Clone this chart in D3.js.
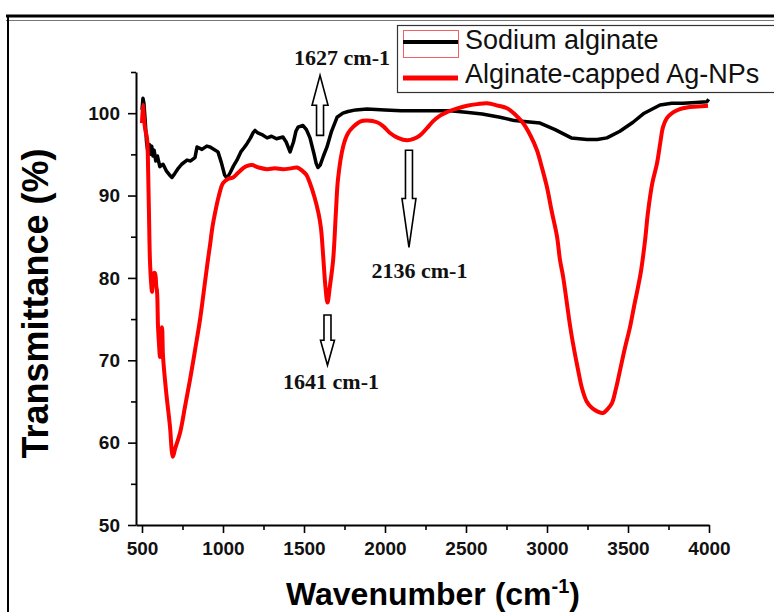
<!DOCTYPE html>
<html>
<head>
<meta charset="utf-8">
<script src="https://cdn.jsdelivr.net/npm/d3@7"></script>
<style>
	body { margin: 0; background: #fff; }
	svg { display: block; }
</style>
</head>
<body>
<div id="canvas"></div>
<script>
var width = 774,
	height = 612;

var xTicks = [500, 1000, 1500, 2000, 2500, 3000, 3500, 4000];
var xMinor = [750, 1250, 1750, 2250, 2750, 3250, 3750];
var yTicks = [50, 60, 70, 80, 90, 100];
var yMinor = [55, 65, 75, 85, 95, 105];

var seriesNames = ["Sodium alginate", "Alginate-capped Ag-NPs"];
var seriesColors = ["#000000", "#ff0000"];

// sodium alginate, [wavenumber, transmittance]
var alginate = [
	[500,100.4],[506,101.8],[512,101.2],[520,99],[528,96.5],[535,95.5],[545,96.2],[552,95],[560,96],
	[568,94.8],[575,95.5],[585,94.2],[595,94.8],[610,93.5],[630,93.8],[650,93],[670,92.5],[685,92.2],
	[700,92.6],[720,93.2],[745,93.8],[778,94.3],[800,94.2],[827,94.6],[840,95.9],[870,95.6],[900,96],
	[920,95.9],[945,95.6],[969,95.3],[990,94],[1010,92.5],[1025,92.1],[1045,92.8],[1065,93.6],[1086,94.3],
	[1110,95.3],[1130,95.8],[1148,96.3],[1170,97],[1185,97.6],[1198,97.9],[1215,97.6],[1240,97.4],
	[1272,97],[1300,97.2],[1330,96.9],[1370,97.1],[1390,96.5],[1414,95.3],[1435,96.5],[1450,97.8],
	[1463,98.3],[1494,98.5],[1515,98],[1537,97],[1560,95.2],[1575,93.9],[1586,93.4],[1600,93.7],
	[1620,94.8],[1642,95.9],[1670,97.8],[1704,99.5],[1740,100],[1772,100.2],[1820,100.4],[1889,100.5],
	[2000,100.4],[2100,100.3],[2200,100.3],[2300,100.3],[2401,100.3],[2500,100.1],[2600,99.9],
	[2710,99.5],[2800,99.1],[2860,99],[2957,98.8],[3050,98],[3150,97],[3247,96.8],[3310,96.8],
	[3370,97],[3450,97.8],[3531,98.9],[3600,100],[3698,101],[3770,101.2],[3840,101.2],[3920,101.3],
	[3988,101.4],[3998,101.7]
];

// alginate-capped Ag-NPs
var agnps = [
	[500,98.8],[506,101],[512,99.5],[520,98],[531,97],[538,93],[543,87.9],[549,82.2],[556,79.5],
	[562,78.3],[570,80.5],[580,80.6],[588,79],[593,78.3],[599,74],[605,72],[611,70.4],[617,73.5],
	[623,74],[630,70.4],[650,66],[673,61.9],[685,58.8],[691,58.3],[705,59.3],[735,61.2],[765,64.3],
	[796,67.6],[828,71.3],[858,74.9],[883,78.6],[907,82.2],[920,84],[935,86.2],[951,87.9],[975,90],
	[1000,91.5],[1030,92],[1062,92.2],[1090,92.7],[1123,93.3],[1150,93.6],[1179,93.7],[1220,93.4],
	[1272,93.2],[1320,93.3],[1370,93.2],[1420,93.3],[1457,93.4],[1490,93],[1515,92.5],[1537,91.5],
	[1565,89.8],[1590,87.8],[1605,86],[1620,82.2],[1632,79],[1645,77],[1660,79],[1680,82.2],
	[1697,88],[1710,92],[1741,95.9],[1770,97.5],[1802,98.3],[1850,99],[1889,99.1],[1951,98.9],
	[1990,98.4],[2031,97.6],[2080,97],[2136,96.7],[2180,96.9],[2216,97.3],[2260,98.2],[2296,99],
	[2340,99.7],[2389,100.2],[2450,100.6],[2506,100.9],[2570,101.1],[2630,101.2],[2700,100.9],
	[2753,100.6],[2800,99.9],[2852,98.8],[2900,97.2],[2938,95.5],[2970,93.3],[3000,91],[3030,88],
	[3062,85],[3080,82.2],[3099,80.2],[3123,76.9],[3140,74.5],[3160,72.1],[3190,69],[3216,66.6],
	[3245,65],[3278,64.2],[3310,63.8],[3346,63.6],[3375,64.1],[3401,64.8],[3425,66.5],[3451,68.8],
	[3480,71.4],[3512,74],[3540,76.8],[3562,78.9],[3580,80.8],[3605,84.5],[3623,87.9],[3650,91.5],
	[3679,93.9],[3700,96.5],[3716,98.3],[3740,99.4],[3778,100.1],[3820,100.5],[3864,100.7],
	[3930,100.8],[3994,100.9]
];

// peak annotations: arrow at wn from T1 to T2 (tip), label at (lx, ly)
var peaks = [
	{"label":"1627 cm-1", "wn":1599, "from":97.3, "to":104.6, "head":30, "hw":8, "lx":1735, "ly":105.8},
	{"label":"2136 cm-1", "wn":2148, "from":95.5, "to":83.7, "head":49, "hw":7, "lx":2213, "ly":80},
	{"label":"1641 cm-1", "wn":1645, "from":75.5, "to":69.4, "head":25, "hw":7, "lx":1667, "ly":66.5}
];

var x = d3.scaleLinear().domain([463, 4000]).range([136, 709]);
var y = d3.scaleLinear().domain([50, 105]).range([525, 72]);

var svg = d3.select("#canvas").append("svg")
	.attr("width", width)
	.attr("height", height)
	.style("background-color", "#fff")

// figure frame
svg.append("line")
	.attr("x1", 6).attr("x2", width).attr("y1", 16).attr("y2", 16)
	.attr("stroke", "#000").attr("stroke-width", 3)
svg.append("line")
	.attr("x1", 6).attr("x2", width).attr("y1", 20.5).attr("y2", 20.5)
	.attr("stroke", "#777").attr("stroke-width", 1)
svg.append("line")
	.attr("x1", 8).attr("x2", 8).attr("y1", 15).attr("y2", height)
	.attr("stroke", "#000").attr("stroke-width", 2)

// axes
var xAxis = svg.append("g")
	.attr("transform", "translate(0," + y(50) + ")")
	.call(d3.axisBottom(x).tickValues(xTicks).tickFormat(d3.format("d")).tickSize(8).tickPadding(9).tickSizeOuter(0))
xAxis.append("g")
	.call(d3.axisBottom(x).tickValues(xMinor).tickSize(5).tickFormat("").tickSizeOuter(0))
	.select(".domain").remove()

var yAxis = svg.append("g")
	.attr("transform", "translate(" + x(463) + ",0)")
	.call(d3.axisLeft(y).tickValues(yTicks).tickFormat(d3.format("d")).tickSize(8).tickPadding(8).tickSizeOuter(0))
yAxis.append("g")
	.call(d3.axisLeft(y).tickValues(yMinor).tickSize(5).tickFormat("").tickSizeOuter(0))
	.select(".domain").remove()

svg.selectAll(".domain").attr("stroke-width", 2)
svg.selectAll(".tick line").attr("stroke-width", 1.6)
svg.selectAll(".tick text")
	.style("font-family", "Liberation Sans, Arial, sans-serif")
	.style("font-weight", "bold")
	.style("font-size", "19px")
	.attr("fill", "#111")

// axis titles
svg.append("text")
	.attr("transform", "translate(48," + ((145 + 462) / 2) + ") rotate(-90)")
	.attr("text-anchor", "middle")
	.style("font-family", "Liberation Sans, Arial, sans-serif")
	.style("font-weight", "bold")
	.style("font-size", "36px")
	.text("Transmittance (%)")

var xt = svg.append("text")
	.attr("x", 433)
	.attr("y", 605)
	.attr("text-anchor", "middle")
	.style("font-family", "Liberation Sans, Arial, sans-serif")
	.style("font-weight", "bold")
	.style("font-size", "32px")
xt.append("tspan").text("Wavenumber (cm")
xt.append("tspan").attr("dy", -12).style("font-size", "20px").text("-1")
xt.append("tspan").attr("dy", 12).text(")")

// spectra
var line = d3.line()
	.x(function(d){ return x(d[0]); })
	.y(function(d){ return y(d[1]); })

svg.append("path")
	.datum(alginate)
	.attr("fill", "none")
	.attr("stroke", seriesColors[0])
	.attr("stroke-width", 3.5)
	.attr("stroke-linejoin", "round")
	.attr("d", line)

svg.append("path")
	.datum(agnps)
	.attr("fill", "none")
	.attr("stroke", seriesColors[1])
	.attr("stroke-width", 4)
	.attr("stroke-linejoin", "round")
	.attr("d", line.curve(d3.curveCatmullRom))

// arrows + labels
peaks.forEach(function(p){
	var cx = x(p.wn), y0 = y(p.from), y1 = y(p.to);
	var dir = y1 < y0 ? -1 : 1;
	var yh = y1 - dir * p.head;
	var sw = 3.5;
	var pts = [[cx - sw, y0], [cx + sw, y0], [cx + sw, yh], [cx + p.hw, yh], [cx, y1], [cx - p.hw, yh], [cx - sw, yh]];
	svg.append("polygon")
		.attr("points", pts.map(function(d){ return d.join(","); }).join(" "))
		.attr("fill", "#fff")
		.attr("stroke", "#000")
		.attr("stroke-width", 1.6)
	svg.append("text")
		.attr("x", x(p.lx))
		.attr("y", y(p.ly))
		.attr("text-anchor", "middle")
		.style("font-family", "Liberation Serif, Times New Roman, serif")
		.style("font-weight", "bold")
		.style("font-size", "22px")
		.attr("fill", "#111")
		.text(p.label)
})

// legend
var legend = svg.append("g")
legend.append("rect")
	.attr("x", 397.5).attr("y", 25.5).attr("width", 400).attr("height", 67)
	.attr("fill", "#fff").attr("stroke", "#333").attr("stroke-width", 1.2)

seriesNames.forEach(function(name, i){
	var ly = 42 + i * 36;
	if(i == 0){
		legend.append("rect")
			.attr("x", 403.5).attr("y", 30.5).attr("width", 55).attr("height", 27)
			.attr("fill", "none").attr("stroke", "#f06060").attr("stroke-width", 1)
	}
	legend.append("line")
		.attr("x1", 403).attr("x2", 458).attr("y1", ly).attr("y2", ly)
		.attr("stroke", seriesColors[i]).attr("stroke-width", i == 0 ? 4 : 5)
	legend.append("text")
		.attr("x", 465).attr("y", ly + 7 + (i == 1 ? -2 : 0))
		.style("font-family", "Liberation Sans, Arial, sans-serif")
		.style("font-size", "27px")
		.attr("fill", "#111")
		.text(name)
})
</script>
</body>
</html>
